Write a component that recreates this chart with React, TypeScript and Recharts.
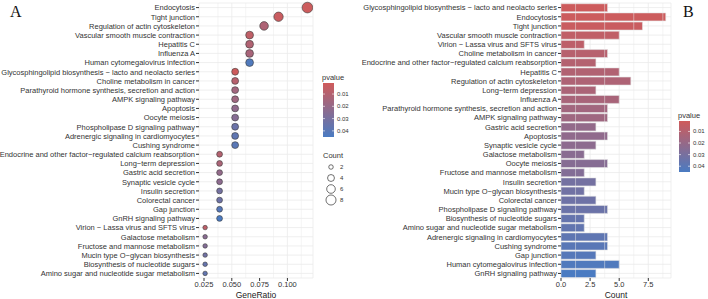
import {
  Bar,
  BarChart,
  CartesianGrid,
  Cell,
  ReferenceArea,
  ReferenceLine,
  Scatter,
  ScatterChart,
  XAxis,
  YAxis,
  ZAxis,
} from 'recharts';

// pathways in p-value order (panel B, top to bottom)
const pathways = [
  'Glycosphingolipid biosynthesis \u2212 lacto and neolacto series',
  'Endocytosis',
  'Tight junction',
  'Vascular smooth muscle contraction',
  'Virion \u2212 Lassa virus and SFTS virus',
  'Choline metabolism in cancer',
  'Endocrine and other factor\u2212regulated calcium reabsorption',
  'Hepatitis C',
  'Regulation of actin cytoskeleton',
  'Long\u2212term depression',
  'Influenza A',
  'Parathyroid hormone synthesis, secretion and action',
  'AMPK signaling pathway',
  'Gastric acid secretion',
  'Apoptosis',
  'Synaptic vesicle cycle',
  'Galactose metabolism',
  'Oocyte meiosis',
  'Fructose and mannose metabolism',
  'Insulin secretion',
  'Mucin type O\u2212glycan biosynthesis',
  'Colorectal cancer',
  'Phospholipase D signaling pathway',
  'Biosynthesis of nucleotide sugars',
  'Amino sugar and nucleotide sugar metabolism',
  'Adrenergic signaling in cardiomyocytes',
  'Cushing syndrome',
  'Gap junction',
  'Human cytomegalovirus infection',
  'GnRH signaling pathway',
];
const counts = [4, 9, 7, 5, 2, 4, 3, 5, 6, 3, 5, 4, 4, 3, 4, 3, 2, 4, 2, 3, 2, 3, 4, 2, 2, 4, 4, 3, 5, 3];
const geneRatios = [
  0.053, 0.118, 0.092, 0.066, 0.026, 0.053, 0.039, 0.066, 0.079, 0.039, 0.066, 0.053, 0.053, 0.039, 0.053,
  0.039, 0.026, 0.053, 0.026, 0.039, 0.026, 0.039, 0.053, 0.026, 0.026, 0.053, 0.053, 0.039, 0.066, 0.039,
];
const pvalues = [
  0.0015, 0.002, 0.003, 0.006, 0.007, 0.009, 0.01, 0.011, 0.012, 0.013, 0.014, 0.016, 0.017, 0.021, 0.022,
  0.023, 0.024, 0.025, 0.026, 0.031, 0.032, 0.033, 0.034, 0.036, 0.037, 0.038, 0.04, 0.041, 0.043, 0.045,
];

// panel A order, top to bottom
const dotOrder = [
  'Endocytosis',
  'Tight junction',
  'Regulation of actin cytoskeleton',
  'Vascular smooth muscle contraction',
  'Hepatitis C',
  'Influenza A',
  'Human cytomegalovirus infection',
  'Glycosphingolipid biosynthesis \u2212 lacto and neolacto series',
  'Choline metabolism in cancer',
  'Parathyroid hormone synthesis, secretion and action',
  'AMPK signaling pathway',
  'Apoptosis',
  'Oocyte meiosis',
  'Phospholipase D signaling pathway',
  'Adrenergic signaling in cardiomyocytes',
  'Cushing syndrome',
  'Endocrine and other factor\u2212regulated calcium reabsorption',
  'Long\u2212term depression',
  'Gastric acid secretion',
  'Synaptic vesicle cycle',
  'Insulin secretion',
  'Colorectal cancer',
  'Gap junction',
  'GnRH signaling pathway',
  'Virion \u2212 Lassa virus and SFTS virus',
  'Galactose metabolism',
  'Fructose and mannose metabolism',
  'Mucin type O\u2212glycan biosynthesis',
  'Biosynthesis of nucleotide sugars',
  'Amino sugar and nucleotide sugar metabolism',
];

const ratioTicks = [0.025, 0.05, 0.075, 0.1];
const ratioMinor = [0.0375, 0.0625, 0.0875, 0.1125];
const countTicks = [0, 2.5, 5, 7.5];
const countMinor = [1.25, 3.75, 6.25, 8.75];
const pvalueTicks = [0.01, 0.02, 0.03, 0.04];
const sizeLegend = [2, 4, 6, 8];

const FONT = '"Liberation Sans", Arial, sans-serif';
const TEXT = '#333';
const GRID = '#ebebeb';
const LOW = [207, 91, 91];
const HIGH = [74, 123, 194];
const P_MIN = 0.001;
const P_MAX = 0.045;
const SIZE_RANGE: [number, number] = [16, 90];

const pColor = (p: number) => {
  const t = Math.min(1, Math.max(0, (p - P_MIN) / (P_MAX - P_MIN)));
  const c = LOW.map((v, i) => Math.round(v + (HIGH[i] - v) * t));
  return `rgb(${c[0]},${c[1]},${c[2]})`;
};

const sizeRadius = (c: number) =>
  Math.sqrt((SIZE_RANGE[0] + ((c - 2) / 7) * (SIZE_RANGE[1] - SIZE_RANGE[0])) / Math.PI);

const rows = pathways.map((name, i) => ({ name, count: counts[i], ratio: geneRatios[i], p: pvalues[i] }));
const dots = dotOrder.map((name) => rows.find((r) => r.name === name)!);

const tickStyle = { fontSize: 7.5, fill: TEXT, fontFamily: FONT };

// plain tick so long pathway names stay on one line
const PathwayTick = (props: any) => (
  <text x={props.x} y={props.y} dy={2.8} textAnchor="end" fontSize={7.5} fill={TEXT} fontFamily={FONT}>
    {props.payload.value}
  </text>
);

const ColorBar = ({ x, y, h, id }: { x: number; y: number; h: number; id: string }) => {
  const pos = (p: number) => y + ((p - P_MIN) / (P_MAX - P_MIN)) * h;
  return (
    <g>
      <defs>
        <linearGradient id={id} x1="0" y1="0" x2="0" y2="1">
          <stop offset="0%" stopColor={pColor(P_MIN)} />
          <stop offset="100%" stopColor={pColor(P_MAX)} />
        </linearGradient>
      </defs>
      <text x={x - 1} y={y - 3} fontSize={7.5} fill={TEXT} fontFamily={FONT}>
        pvalue
      </text>
      <rect x={x} y={y} width={11} height={h} fill={`url(#${id})`} />
      {pvalueTicks.map((t) => (
        <g key={t}>
          <line x1={x} x2={x + 2} y1={pos(t)} y2={pos(t)} stroke="#fff" strokeWidth={0.6} />
          <line x1={x + 9} x2={x + 11} y1={pos(t)} y2={pos(t)} stroke="#fff" strokeWidth={0.6} />
          <text x={x + 14} y={pos(t) + 2} fontSize={6} fill={TEXT} fontFamily={FONT}>
            {t.toFixed(2)}
          </text>
        </g>
      ))}
    </g>
  );
};

export default function App() {
  return (
    <div style={{ position: 'absolute', left: 0, top: 0, width: 708, height: 299, background: '#fff', fontFamily: FONT }}>
      <div style={{ position: 'absolute', left: 0, top: 0 }}>
        <ScatterChart
          width={316}
          height={299}
          margin={{ top: 3, right: 3, bottom: 0, left: 0 }}
          style={{ overflow: 'visible' }}
        >
          <CartesianGrid stroke={GRID} strokeWidth={0.8} />
          {ratioMinor.map((v) => (
            <ReferenceLine key={v} x={v} stroke={GRID} strokeWidth={0.5} />
          ))}
          <XAxis
            type="number"
            dataKey="ratio"
            domain={[0.0205, 0.123]}
            ticks={ratioTicks}
            allowDataOverflow
            tickFormatter={(v: number) => v.toFixed(3)}
            tick={tickStyle}
            tickSize={3}
            tickMargin={1}
            axisLine={false}
            tickLine={{ stroke: TEXT }}
            height={21}
            label={{ value: 'GeneRatio', position: 'insideBottom', offset: 1, fontSize: 8.5, fill: '#222', fontFamily: FONT }}
          />
          <YAxis
            type="category"
            dataKey="name"
            reversed
            width={199}
            interval={0}
            tick={<PathwayTick />}
            tickSize={3}
            tickMargin={1}
            axisLine={false}
            tickLine={{ stroke: TEXT }}
          />
          <ZAxis type="number" dataKey="count" domain={[2, 9]} range={SIZE_RANGE} />
          <Scatter data={dots} isAnimationActive={false}>
            {dots.map((d) => (
              <Cell key={d.name} fill={pColor(d.p)} stroke="#3a3a3a" strokeWidth={0.6} />
            ))}
          </Scatter>
          <ReferenceArea fill="none" stroke="#555" strokeWidth={0.8} ifOverflow="visible" />
        </ScatterChart>
      </div>
      <div style={{ position: 'absolute', left: 350, top: 0 }}>
        <BarChart
          width={325}
          height={299}
          data={rows}
          layout="vertical"
          barCategoryGap="8%"
          margin={{ top: 3, right: 4, bottom: 0, left: 0 }}
          style={{ overflow: 'visible' }}
        >
          <CartesianGrid stroke={GRID} strokeWidth={0.8} />
          {countMinor.map((v) => (
            <ReferenceLine key={v} x={v} stroke={GRID} strokeWidth={0.5} />
          ))}
          <XAxis
            type="number"
            dataKey="count"
            domain={[0, 9.45]}
            ticks={countTicks}
            allowDataOverflow
            tickFormatter={(v: number) => v.toFixed(1)}
            tick={tickStyle}
            tickSize={3}
            tickMargin={1}
            axisLine={false}
            tickLine={{ stroke: TEXT }}
            height={21}
            label={{ value: 'Count', position: 'insideBottom', offset: 1, fontSize: 8.5, fill: '#222', fontFamily: FONT }}
          />
          <YAxis
            type="category"
            dataKey="name"
            width={211}
            interval={0}
            tick={<PathwayTick />}
            tickSize={3}
            tickMargin={1}
            axisLine={false}
            tickLine={{ stroke: TEXT }}
          />
          <Bar dataKey="count" isAnimationActive={false} stroke="#e4e4e4" strokeWidth={0.6}>
            {rows.map((r) => (
              <Cell key={r.name} fill={pColor(r.p)} />
            ))}
          </Bar>
          <ReferenceArea fill="none" stroke="#555" strokeWidth={0.8} ifOverflow="visible" />
        </BarChart>
      </div>
      <svg width={708} height={299} style={{ position: 'absolute', left: 0, top: 0, pointerEvents: 'none' }}>
        <text x={10} y={17} fontSize={16} fontFamily='"Liberation Serif", "Times New Roman", serif' fill="#111">
          A
        </text>
        <text x={683} y={17} fontSize={16} fontFamily='"Liberation Serif", "Times New Roman", serif' fill="#111">
          B
        </text>
        <ColorBar x={323} y={83} h={54} id="gradA" />
        <text x={323} y={158} fontSize={7.5} fill={TEXT} fontFamily={FONT}>
          Count
        </text>
        {sizeLegend.map((c, i) => (
          <g key={c}>
            <circle cx={331} cy={167 + i * 11} r={sizeRadius(c)} fill="none" stroke="#333" strokeWidth={0.7} />
            <text x={340} y={169 + i * 11} fontSize={6} fill={TEXT} fontFamily={FONT}>
              {c}
            </text>
          </g>
        ))}
        <ColorBar x={679} y={121} h={51} id="gradB" />
      </svg>
    </div>
  );
}
